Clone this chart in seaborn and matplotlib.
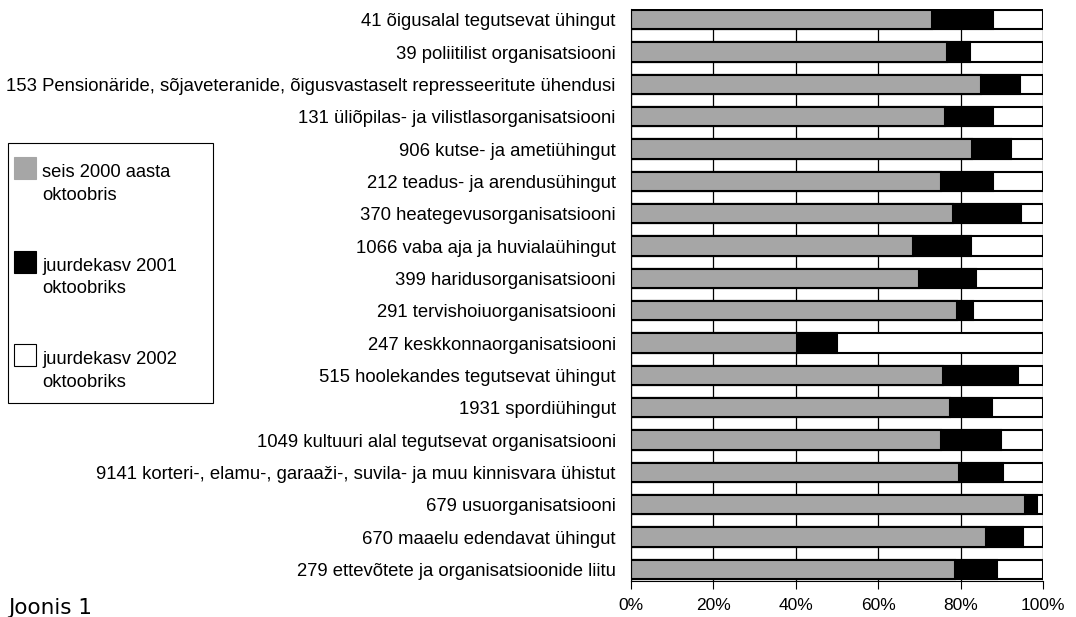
import numpy as np
import pandas as pd
import matplotlib
matplotlib.use("Agg")
import matplotlib.pyplot as plt
import matplotlib.patches as mpatches
from matplotlib.legend_handler import HandlerPatch
import seaborn as sns

# categories, top to bottom
categories = [
    "41 õigusalal tegutsevat ühingut",
    "39 poliitilist organisatsiooni",
    "153 Pensionäride, sõjaveteranide, õigusvastaselt represseeritute ühendusi",
    "131 üliõpilas- ja vilistlasorganisatsiooni",
    "906 kutse- ja ametiühingut",
    "212 teadus- ja arendusühingut",
    "370 heategevusorganisatsiooni",
    "1066 vaba aja ja huvialaühingut",
    "399 haridusorganisatsiooni",
    "291 tervishoiuorganisatsiooni",
    "247 keskkonnaorganisatsiooni",
    "515 hoolekandes tegutsevat ühingut",
    "1931 spordiühingut",
    "1049 kultuuri alal tegutsevat organisatsiooni",
    "9141 korteri-, elamu-, garaaži-, suvila- ja muu kinnisvara ühistut",
    "679 usuorganisatsiooni",
    "670 maaelu edendavat ühingut",
    "279 ettevõtete ja organisatsioonide liitu",
]

# shares of the 2002 total (%)
seis_2000 = [72.9, 76.7, 84.8, 76.2, 82.6, 75.2, 78.2, 68.3, 69.9,
             79.0, 40.2, 75.6, 77.4, 75.1, 79.6, 95.6, 86.1, 78.6]
kasv_2001 = [15.0, 5.5, 9.5, 11.7, 9.5, 12.7, 16.3, 14.1, 13.7,
             4.0, 9.7, 18.3, 10.1, 14.6, 10.6, 2.9, 8.9, 10.1]
kasv_2002 = [12.1, 17.8, 5.7, 12.1, 7.9, 12.1, 5.5, 17.6, 16.4,
             17.0, 50.1, 6.1, 12.5, 10.3, 9.8, 1.5, 5.0, 11.3]

series_labels = ["seis 2000 aasta\noktoobris",
                 "juurdekasv 2001\noktoobriks",
                 "juurdekasv 2002\noktoobriks"]
series_colors = ["#a6a6a6", "#000000", "#ffffff"]
x_ticks = [0, 20, 40, 60, 80, 100]
x_ticklabels = ["0%", "20%", "40%", "60%", "80%", "100%"]

df = pd.DataFrame({"kategooria": categories,
                   "s2000": seis_2000, "k2001": kasv_2001, "k2002": kasv_2002})
df["end2001"] = df["s2000"] + df["k2001"]
df["end2002"] = df["end2001"] + df["k2002"]

sns.set_theme(style="white")
plt.rcParams["font.family"] = ["Liberation Sans", "DejaVu Sans"]
for key in ["text.color", "axes.labelcolor", "xtick.color", "ytick.color"]:
    plt.rcParams[key] = "black"

W, H = 1076, 617
fig = plt.figure(figsize=(W / 100, H / 100), dpi=100)
ax = fig.add_axes([631 / W, (H - 581) / H, (1043.3 - 631) / W, 572 / H])

# stacked bars: draw cumulative totals back to front
for col, color in zip(["end2002", "end2001", "s2000"], series_colors[::-1]):
    sns.barplot(data=df, x=col, y="kategooria", color=color, saturation=1,
                edgecolor="black", linewidth=1.5, width=0.6, errorbar=None,
                orient="h", ax=ax)

ax.set_xlim(0, 100)
ax.set_ylim(17.36, -0.33)
ax.set_xticks(x_ticks)
ax.set_xticklabels(x_ticklabels, fontsize=12.5)
ax.tick_params(axis="x", length=6, width=0.8, color="black", direction="out",
               pad=6, bottom=True)
ax.tick_params(axis="y", length=0, pad=11, labelsize=13.35)
ax.set_xlabel("")
ax.set_ylabel("")
ax.xaxis.grid(True, color="black", linewidth=0.9)
ax.yaxis.grid(False)
ax.set_axisbelow(True)
for side in ["top", "right"]:
    ax.spines[side].set_visible(False)
for side in ["left", "bottom"]:
    ax.spines[side].set_color("black")
    ax.spines[side].set_linewidth(0.8)


def top_aligned_patch(legend, orig_handle, xdescent, ydescent, width, height, fontsize):
    # put the square next to the first line of the two-line label
    size = width
    cy = -ydescent + height / 2 + 0.87 * fontsize
    return mpatches.Rectangle((-xdescent, cy - size / 2), size, size)


handles = [mpatches.Patch(facecolor=c, edgecolor=("black" if c == "#ffffff" else c),
                          linewidth=0.8) for c in series_colors]
leg = fig.legend(handles, series_labels, loc="upper left",
                 bbox_to_anchor=(14 / W, 1 - 164 / H),
                 borderaxespad=0, borderpad=0, fontsize=13.2, frameon=False,
                 handlelength=1.2, handleheight=1.2,
                 handletextpad=0.33, labelspacing=2.93,
                 handler_map={mpatches.Patch: HandlerPatch(patch_func=top_aligned_patch)})
for t in leg.get_texts():
    t.set_linespacing(1.45)

# legend frame
fig.add_artist(mpatches.Rectangle((8 / W, 1 - 403 / H), 205 / W, 260 / H,
                                  transform=fig.transFigure, fill=False,
                                  edgecolor="black", linewidth=0.8))

fig.text(8 / W, (H - 614) / H, "Joonis 1", family="DejaVu Sans", fontsize=15.5,
         va="baseline", ha="left")

fig.savefig("out.png", dpi=100)
